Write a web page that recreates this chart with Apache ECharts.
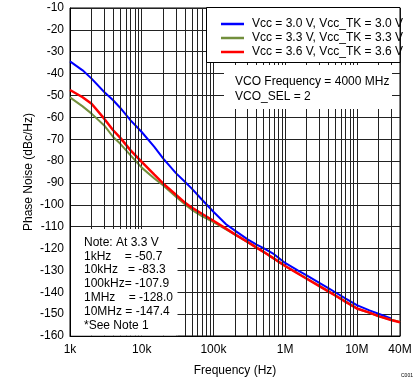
<!DOCTYPE html>
<html>
<head>
<meta charset="utf-8">
<script src="https://cdn.jsdelivr.net/npm/echarts@6/dist/echarts.min.js"></script>
<style>
html,body{margin:0;padding:0;background:#fff;}
#chart{width:419px;height:382px;}
</style>
</head>
<body>
<div id="chart"></div>
<script>
// ---- data ----
var freqs = [1e3,1.5e3,2e3,3e3,4e3,5e3,7e3,1e4,1.5e4,2e4,3e4,4e4,5e4,7e4,1e5,1.5e5,2e5,3e5,4e5,5e5,7e5,1e6,1.5e6,2e6,3e6,4e6,5e6,7e6,1e7,1.5e7,2e7,3e7,4e7];
var seriesNames = ['Vcc = 3.0 V, Vcc_TK = 3.0 V','Vcc = 3.3 V, Vcc_TK = 3.3 V','Vcc = 3.6 V, Vcc_TK = 3.6 V'];
var vcc30 = [-34.4,-38.5,-42.3,-48.4,-52.2,-55.6,-61.4,-66.7,-73.5,-78.9,-85.5,-89.5,-92.6,-97.8,-103.2,-108.9,-111.8,-115.8,-118.2,-119.8,-122.6,-126.6,-130.0,-132.3,-135.7,-138.1,-140.0,-142.9,-145.9,-148.3,-149.8,-152.0,null];
var vcc33 = [-50.9,-55.0,-58.3,-63.7,-69.0,-72.0,-77.4,-83.0,-88.0,-91.2,-96.3,-99.8,-102.3,-105.3,-107.9,-111.2,-113.6,-117.1,-119.6,-121.5,-124.6,-128.0,-131.3,-133.7,-137.1,-139.5,-141.4,-144.3,-147.4,-149.4,-150.9,-152.6,-153.6];
var vcc36 = [-47.5,-50.8,-53.8,-60.6,-65.9,-69.3,-75.1,-80.4,-86.2,-90.3,-95.4,-99.0,-101.3,-104.2,-107.3,-110.9,-113.5,-117.0,-119.6,-121.5,-124.6,-128.0,-131.4,-133.8,-137.2,-139.6,-141.5,-144.4,-147.4,-149.3,-150.9,-152.7,-153.7];
var xTickLabels = {1e3:'1k',1e4:'10k',1e5:'100k',1e6:'1M',1e7:'10M',4e7:'40M'};
var yMin = -160, yMax = -10, yStep = 10;
var xMin = 1e3, xMax = 4e7;
var noteLines = ['Note: At 3.3 V','1kHz    = -50.7','10kHz   = -83.3','100kHz= -107.9','1MHz    = -128.0','10MHz = -147.4','*See Note 1'];
var vcoLines = ['VCO Frequency = 4000 MHz','VCO_SEL = 2'];

// minor (2..9 per decade) vertical grid positions
var minorFreqs = [];
for (var d = 1e3; d < xMax; d *= 10) {
  for (var k = 2; k <= 9; k++) { if (k * d < xMax) minorFreqs.push(k * d); }
}

function pairs(vals){ return freqs.map(function(f,i){ return [f, vals[i]]; }).filter(function(p){return p[1]!==null;}); }

var FONT = '"Liberation Sans", Arial, sans-serif';
var GRID = '#222';

var chart = echarts.init(document.getElementById('chart'), null, {renderer:'canvas'});
var graphics = [
  {type:'rect', z:10, shape:{x:206.5, y:7.5, width:193.5, height:55}, style:{fill:'#fff', stroke:'#000', lineWidth:1}},
  {type:'rect', z:10, shape:{x:224, y:65, width:168, height:44}, style:{fill:'#fff'}},
  {type:'rect', z:10, shape:{x:71, y:229, width:106.5, height:106.5}, style:{fill:'#fff'}},
  {type:'text', z:11, left:401, top:373, style:{text:'C001', fill:'#000', font:'5px ' + FONT}}
];
vcoLines.forEach(function(t,i){
  graphics.push({type:'text', z:11, x:235, y:82 + i*15, style:{text:t, fill:'#000', font:'12px ' + FONT, textVerticalAlign:'middle', verticalAlign:'middle'}});
});
noteLines.forEach(function(t,i){
  graphics.push({type:'text', z:11, x:84, y:242.5 + i*13.8, style:{text:t, fill:'#000', font:'12px ' + FONT, textVerticalAlign:'middle', verticalAlign:'middle'}});
});

var option = {
  animation:false,
  backgroundColor:'#fff',
  textStyle:{fontFamily:FONT},
  grid:{left:70, right:19, top:8, bottom:46, show:true, borderColor:'#000', borderWidth:1, containLabel:false},
  legend:{
    data:seriesNames, orient:'vertical', left:216, top:13, z:20,
    icon:'rect', itemWidth:23, itemHeight:2.5, itemGap:2,
    textStyle:{fontSize:12, color:'#000', fontFamily:FONT, padding:[0,0,0,3]}
  },
  xAxis:{
    type:'log', logBase:10, min:xMin, max:xMax,
    name:'Frequency (Hz)', nameLocation:'middle', nameGap:29, nameMoveOverlap:false,
    nameTextStyle:{fontSize:12, color:'#000', fontFamily:FONT},
    axisLine:{show:true, lineStyle:{color:'#000'}},
    axisTick:{show:false},
    axisLabel:{color:'#000', fontSize:12, fontFamily:FONT, margin:8, showMaxLabel:true,
      formatter:function(v){ var key = Math.round(v); return xTickLabels[key] !== undefined ? xTickLabels[key] : ''; }},
    splitLine:{show:true, lineStyle:{color:GRID, width:1}}
  },
  yAxis:{
    type:'value', min:yMin, max:yMax, interval:yStep,
    name:'Phase Noise (dBc/Hz)', nameLocation:'middle', nameGap:35, nameMoveOverlap:false,
    nameTextStyle:{fontSize:12, color:'#000', fontFamily:FONT},
    axisLine:{show:true, lineStyle:{color:'#000'}},
    axisTick:{show:false},
    axisLabel:{color:'#000', fontSize:12, fontFamily:FONT, margin:6},
    splitLine:{show:true, lineStyle:{color:GRID, width:1}}
  },
  series:[
    {name:'minorgrid', type:'line', data:[], silent:true,
     markLine:{silent:true, symbol:['none','none'], label:{show:false}, animation:false,
       lineStyle:{color:GRID, width:1, type:'solid'},
       data:minorFreqs.map(function(f){ return {xAxis:f}; })}},
    {name:seriesNames[0], type:'line', data:pairs(vcc30), symbol:'none', z:3,
     lineStyle:{color:'#0000ff', width:2}, itemStyle:{color:'#0000ff'}},
    {name:seriesNames[1], type:'line', data:pairs(vcc33), symbol:'none', z:3,
     lineStyle:{color:'#728f3c', width:2}, itemStyle:{color:'#728f3c'}},
    {name:seriesNames[2], type:'line', data:pairs(vcc36), symbol:'none', z:3,
     lineStyle:{color:'#ff0000', width:2.5}, itemStyle:{color:'#ff0000'}}
  ],
  graphic:graphics
};
chart.setOption(option);
</script>
</body>
</html>
